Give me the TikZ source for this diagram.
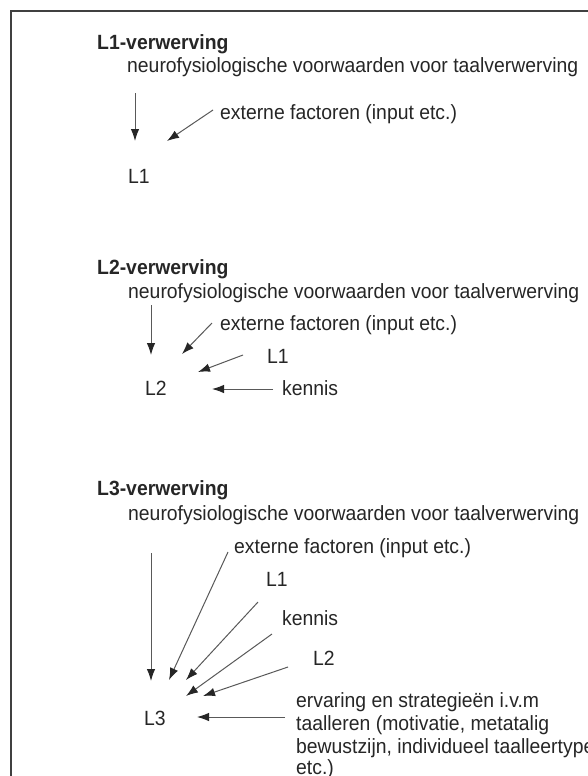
\documentclass[tikz,border=0pt]{standalone}
\usepackage{fontspec}
\setmainfont{Liberation Sans}[FakeStretch=0.94]
\usetikzlibrary{arrows.meta}
\begin{document}
\begin{tikzpicture}[x=1pt,y=-1pt,
  txt/.style={anchor=base west,inner sep=0pt,font=\fontsize{20.6}{23}\selectfont,text=black!85},
  hd/.style={txt,font=\fontsize{20.6}{23}\selectfont\bfseries},
  arr/.style={draw=black!65,line width=1pt,-{Latex[length=12pt,width=8.5pt,color=black!85]}},
  frame/.style={draw=black!75,line width=2.5pt}]
\useasboundingbox (0,0) rectangle (587,776);
\fill[white] (0,0) rectangle (587,776);
\coordinate (fb) at (11,800);
\coordinate (fc) at (11,11);
\coordinate (fr) at (620,11);
\draw[frame] (fb) -- (fc) -- (fr);

% ---------- L1 ----------
\node[hd]  (h1) at (97,50)  {L1-verwerving};
\node[txt] (n1) at (127,72) {neurofysiologische voorwaarden voor taalverwerving};
\node[txt] (x1) at (220,119) {externe factoren (input etc.)};
\node[txt] (t1) at (128,183) {L1};
\coordinate (a1s) at (135,93);  \coordinate (a1e) at (135,141);
\coordinate (b1s) at (213,110); \coordinate (b1e) at (167,141);
\draw[arr] (a1s) -- (a1e);
\draw[arr] (b1s) -- (b1e);

% ---------- L2 ----------
\node[hd]  (h2) at (97,274)  {L2-verwerving};
\node[txt] (n2) at (128,298) {neurofysiologische voorwaarden voor taalverwerving};
\node[txt] (x2) at (220,330) {externe factoren (input etc.)};
\node[txt] (l21) at (267,363) {L1};
\node[txt] (t2) at (145,395) {L2};
\node[txt] (k2) at (282,395) {kennis};
\coordinate (a2s) at (151,305); \coordinate (a2e) at (151,355);
\coordinate (b2s) at (212,323); \coordinate (b2e) at (182,354);
\coordinate (c2s) at (243,355); \coordinate (c2e) at (198,372);
\coordinate (d2s) at (273,389); \coordinate (d2e) at (212,389);
\draw[arr] (a2s) -- (a2e);
\draw[arr] (b2s) -- (b2e);
\draw[arr] (c2s) -- (c2e);
\draw[arr] (d2s) -- (d2e);

% ---------- L3 ----------
\node[hd]  (h3) at (97,495)  {L3-verwerving};
\node[txt] (n3) at (128,520) {neurofysiologische voorwaarden voor taalverwerving};
\node[txt] (x3) at (234,553) {externe factoren (input etc.)};
\node[txt] (l31) at (266,586) {L1};
\node[txt] (k3) at (282,625) {kennis};
\node[txt] (l32) at (313,665) {L2};
\node[txt] (t3) at (144,725) {L3};
\node[txt] (e1) at (296,707) {ervaring en strategieën i.v.m};
\node[txt] (e2) at (296,730) {taalleren (motivatie, metatalig};
\node[txt] (e3) at (296,753) {bewustzijn, individueel taalleertype};
\node[txt] (e4) at (296,774) {etc.)};
\coordinate (a3s) at (151,553); \coordinate (a3e) at (151,681);
\coordinate (b3s) at (228,552); \coordinate (b3e) at (169,680);
\coordinate (c3s) at (258,602); \coordinate (c3e) at (186,680);
\coordinate (d3s) at (272,634); \coordinate (d3e) at (186,696);
\coordinate (f3s) at (288,667); \coordinate (f3e) at (203,696);
\coordinate (g3s) at (285,717); \coordinate (g3e) at (197,717);
\draw[arr] (a3s) -- (a3e);
\draw[arr] (b3s) -- (b3e);
\draw[arr] (c3s) -- (c3e);
\draw[arr] (d3s) -- (d3e);
\draw[arr] (f3s) -- (f3e);
\draw[arr] (g3s) -- (g3e);
\end{tikzpicture}
\end{document}
